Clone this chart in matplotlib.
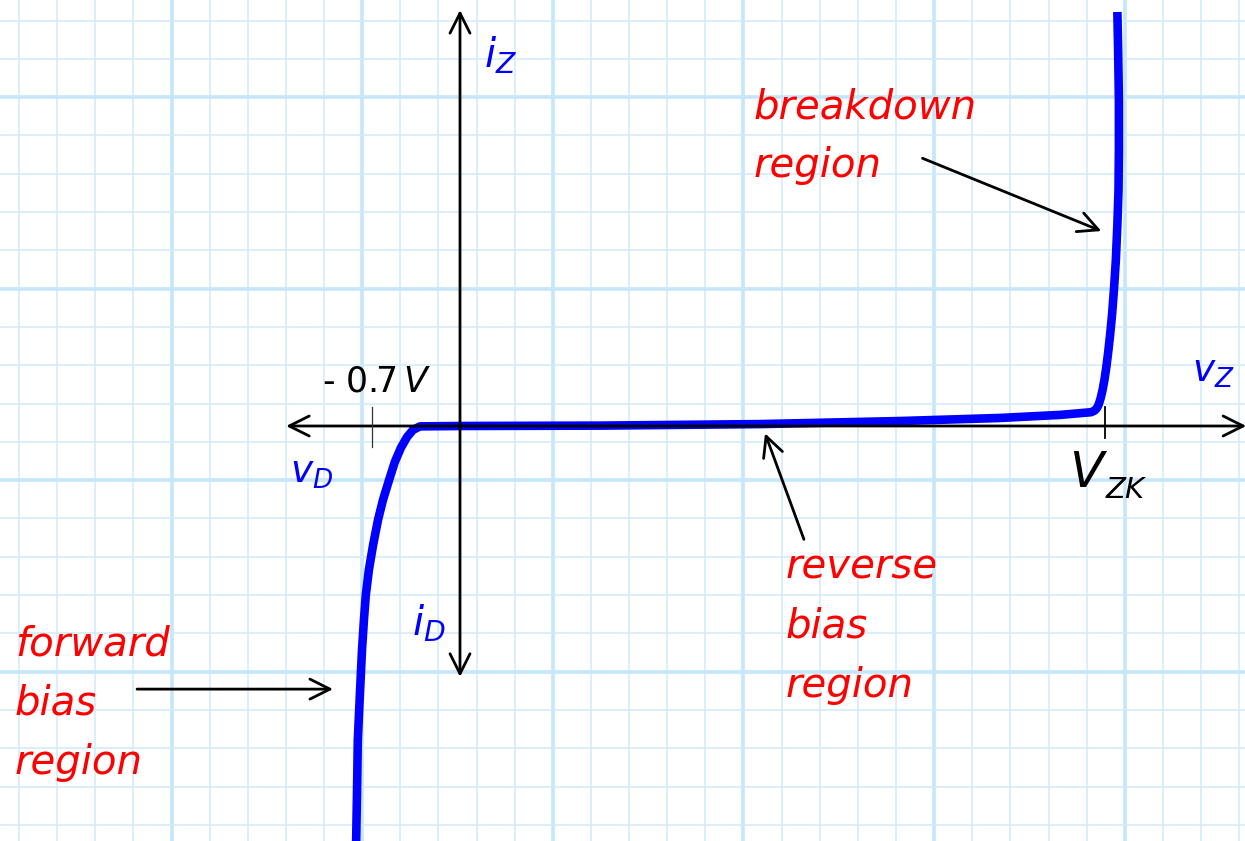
"""
	Zener diode i-v characteristic drawn on graph paper.
"""

import numpy as np
import matplotlib
matplotlib.use("Agg")
import matplotlib.pyplot as plt

# curve in grid units (1 unit = one small square), origin at the axes crossing
forward_v = [-2.73, -2.70, -2.68, -2.62, -2.57, -2.52, -2.47, -2.39, -2.28, -2.15,
			 -2.02, -1.86, -1.71, -1.55, -1.39, -1.23, -1.05]
forward_i = [-11.2, -9.50, -8.20, -6.89, -5.85, -5.07, -4.41, -3.76, -3.11, -2.45,
			 -1.93, -1.41, -0.94, -0.57, -0.29, -0.10, -0.01]

reverse_v = [-1.05, 0.0, 3.67, 7.87, 11.54, 14.16, 15.74, 16.55]
reverse_i = [-0.01, 0.0, 0.01, 0.05, 0.13, 0.21, 0.29, 0.36]

breakdown_v = [16.55, 16.64, 16.70, 16.75, 16.80, 16.85, 16.90, 16.95, 17.00, 17.05, 17.10,
			   17.15, 17.20, 17.24, 17.27, 17.28, 17.28, 17.26, 17.24]
breakdown_i = [0.36, 0.40, 0.46, 0.56, 0.72, 0.93, 1.20, 1.53, 1.93, 2.38, 2.90,
			   3.55, 4.33, 5.25, 6.16, 7.21, 8.51, 9.82, 10.81]

knee_forward = -2.32   # -0.7 V mark
knee_zener = 16.92     # V_ZK mark

region_labels = [
	(["forward", "bias", "region"], (-11.67, -5.98)),
	(["breakdown", "region"], (7.71, 8.04)),
	(["reverse", "bias", "region"], (8.55, -3.97)),
]

# paper geometry: pixel size of a square and offset of the first line
sq_x, sq_y = 38.13, 38.3
W, H = 1245, 841
ox, oy = 460, 426

fig = plt.figure(figsize=(W / 100, H / 100), dpi=100)
ax = fig.add_axes([0, 0, 1, 1])
ax.set_xlim(-ox / sq_x, (W - ox) / sq_x)
ax.set_ylim(-(H - oy) / sq_y, oy / sq_y)
ax.axis("off")

# graph paper
for k in range(34):
	x = (19 - ox) / sq_x + k
	major = k % 5 == 4
	ax.axvline(x, color="#c6e6fa" if major else "#d0ebfb", lw=2.6 if major else 1.1, zorder=0)
for k in range(23):
	y = (oy - 20.5) / sq_y - k
	major = k % 5 == 2
	ax.axhline(y, color="#c6e6fa" if major else "#d0ebfb", lw=2.6 if major else 1.1, zorder=0)

# characteristic
cv = forward_v + reverse_v[1:] + breakdown_v[1:]
ci = forward_i + reverse_i[1:] + breakdown_i[1:]
ax.plot(cv, ci, color="#0000ff", lw=6.2, solid_joinstyle="round", solid_capstyle="butt", zorder=2)

# axes with arrows
arrow = dict(arrowstyle="<->,head_length=0.4,head_width=0.2", mutation_scale=36,
			 lw=2.0, color="black", shrinkA=0, shrinkB=0)
ax.annotate("", xy=(-4.56, 0), xytext=(20.62, 0), arrowprops=arrow, zorder=3)
ax.annotate("", xy=(0, -6.55), xytext=(0, 10.86), arrowprops=arrow, zorder=3)

# tick marks
ax.plot([knee_forward, knee_forward], [0.5, -0.55], color="#333333", lw=0.9, zorder=3)
ax.plot([knee_zener, knee_zener], [0.5, -0.31], color="black", lw=1.3, zorder=3)

# axis labels
blue = "#0000ff"
ax.text(0.62, 9.37, r"$i_Z$", color=blue, fontsize=29, va="baseline")
ax.text(-1.25, -5.48, r"$i_D$", color=blue, fontsize=29, va="baseline")
ax.text(-4.45, -1.49, r"$v_D$", color=blue, fontsize=27, va="baseline")
ax.text(19.2, 1.15, r"$v_Z$", color=blue, fontsize=27, va="baseline")
ax.text(-3.62, 0.91, r"- 0.7$\,V$", color="black", fontsize=25, va="baseline")
ax.text(15.98, -1.59, "V", color="black", fontsize=36, style="italic", va="baseline")
ax.text(16.92, -1.88, "ZK", color="black", fontsize=21, style="italic", va="baseline")

# region labels and pointers
for lines, (x0, y0) in region_labels:
	for n, word in enumerate(lines):
		ax.text(x0, y0 - 1.55 * n, word, color="#ff0000", fontsize=29,
				style="italic", va="baseline")

pointer = dict(arrowstyle="->,head_length=0.4,head_width=0.2", mutation_scale=36,
			   lw=2.0, color="black", shrinkA=0, shrinkB=0)
ax.annotate("", xy=(-3.33, -6.87), xytext=(-8.47, -6.87), arrowprops=pointer, zorder=3)
ax.annotate("", xy=(16.82, 5.09), xytext=(12.13, 6.99), arrowprops=pointer, zorder=3)
ax.annotate("", xy=(8.00, -0.19), xytext=(9.02, -2.96), arrowprops=pointer, zorder=3)

fig.savefig("out.png", dpi=100, facecolor="white")
